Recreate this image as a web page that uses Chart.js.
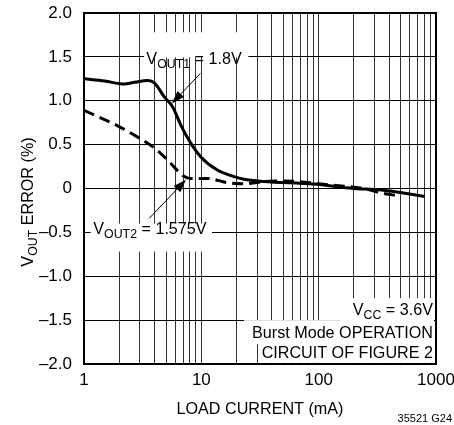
<!DOCTYPE html>
<html>
<head>
<meta charset="utf-8">
<script src="https://cdn.jsdelivr.net/npm/chart.js@4/dist/chart.umd.min.js"></script>
<style>
  html, body { margin: 0; padding: 0; background: #fff; }
  canvas { display: block; }
</style>
</head>
<body>
<canvas id="chart" width="454" height="425"></canvas>
<script>
// V_OUT error vs load current

const FONT = '"Liberation Sans", Arial, sans-serif';
const SX = 0.95; // squeeze for the narrow look of the label text

const xGridTicks = [1, 2, 3, 4, 5, 6, 7, 8, 9, 10, 20, 30, 40, 50, 60, 70, 80, 90,
  100, 200, 300, 400, 500, 600, 700, 800, 900, 1000];
const xLabelTicks = [1, 10, 100, 1000];

const vout1X = [1, 1.5, 2.2, 2.7, 3.5, 4, 4.8, 5.7, 6.7, 8.1, 9.9, 13.7, 19, 23, 34, 90, 200, 330, 800];
const vout1Y = [1.25, 1.225, 1.19, 1.21, 1.23, 1.2, 1.05, 0.93, 0.72, 0.52, 0.36, 0.21, 0.135, 0.105, 0.08, 0.05, 0.0, -0.015, -0.09];

const vout2X = [1, 1.9, 3, 4, 5.1, 7.1, 8.1, 11.2, 16.7, 23, 41, 65, 125, 240, 355, 490];
const vout2Y = [0.89, 0.72, 0.57, 0.46, 0.33, 0.14, 0.115, 0.115, 0.067, 0.055, 0.085, 0.08, 0.04, 0.0, -0.055, -0.085];

function pts(xs, ys) {
  return xs.map(function(x, i) { return { x: x, y: ys[i] }; });
}

function font(size) {
  return size + "px " + FONT;
}

// text made of [string, isSubscript] pieces
function richWidth(ctx, parts) {
  let w = 0;
  parts.forEach(function(p) {
    ctx.font = font(p[1] ? 13 : 17);
    w += ctx.measureText(p[0]).width * SX;
  });
  return w;
}

function drawRich(ctx, x, y, parts) {
  ctx.textBaseline = "alphabetic";
  ctx.textAlign = "left";
  parts.forEach(function(p) {
    ctx.font = font(p[1] ? 13 : 17);
    ctx.save();
    ctx.translate(x, p[1] ? y + 4 : y);
    ctx.scale(SX, 1);
    ctx.fillText(p[0], 0, 0);
    ctx.restore();
    x += ctx.measureText(p[0]).width * SX;
  });
}

function drawText(ctx, str, x, y, align) {
  ctx.font = font(17);
  const w = ctx.measureText(str).width * SX;
  if (align === "right") x -= w;
  if (align === "center") x -= w / 2;
  drawRich(ctx, x, y, [[str, false]]);
}

function arrow(ctx, x0, y0, x1, y1) {
  const a = Math.atan2(y1 - y0, x1 - x0);
  ctx.strokeStyle = "#000";
  ctx.lineWidth = 1;
  ctx.beginPath();
  ctx.moveTo(x0, y0);
  ctx.lineTo(x1 - Math.cos(a) * 6, y1 - Math.sin(a) * 6);
  ctx.stroke();
  ctx.fillStyle = "#000";
  ctx.beginPath();
  ctx.moveTo(x1, y1);
  ctx.lineTo(x1 - Math.cos(a) * 13 + Math.sin(a) * 4.5, y1 - Math.sin(a) * 13 - Math.cos(a) * 4.5);
  ctx.lineTo(x1 - Math.cos(a) * 13 - Math.sin(a) * 4.5, y1 - Math.sin(a) * 13 + Math.cos(a) * 4.5);
  ctx.closePath();
  ctx.fill();
}

const labels1 = [["V", false], ["OUT1", true], [" = 1.8V", false]];
const labels2 = [["V", false], ["OUT2", true], [" = 1.575V", false]];
const labelVcc = [["V", false], ["CC", true], [" = 3.6V", false]];

const notes = {
  id: "notes",
  beforeDatasetsDraw: function(chart) {
    const ctx = chart.ctx;
    const x = chart.scales.x, y = chart.scales.y;
    ctx.save();
    ctx.fillStyle = "#fff";
    // label boxes over the grid
    let l = x.getPixelForValue(3.25), t = y.getPixelForValue(1.78);
    ctx.fillRect(l, t, richWidth(ctx, labels1) + 9, 25);
    l = x.getPixelForValue(1.14); t = y.getPixelForValue(-0.4);
    ctx.fillRect(l, t, richWidth(ctx, labels2) + 8, 28);
    const r = chart.chartArea.right - 2;
    ctx.fillRect(r - 94, y.getPixelForValue(-1.25), 94, 24);
    ctx.fillRect(r - 190, y.getPixelForValue(-1.5), 190, 24);
    ctx.fillRect(r - 176, y.getPixelForValue(-1.77), 176, 19);
    ctx.restore();
  },
  afterDraw: function(chart) {
    const ctx = chart.ctx;
    const x = chart.scales.x, y = chart.scales.y;
    const a = chart.chartArea;
    ctx.save();
    ctx.strokeStyle = "#000";
    ctx.lineWidth = 2;
    ctx.strokeRect(a.left, a.top, a.right - a.left, a.bottom - a.top);

    ctx.fillStyle = "#000";
    drawRich(ctx, x.getPixelForValue(3.4), y.getPixelForValue(1.42), labels1);
    drawRich(ctx, x.getPixelForValue(1.2), y.getPixelForValue(-0.52), labels2);

    arrow(ctx, x.getPixelForValue(9.8), y.getPixelForValue(1.31),
               x.getPixelForValue(5.6), y.getPixelForValue(0.97));
    arrow(ctx, x.getPixelForValue(3.6), y.getPixelForValue(-0.34),
               x.getPixelForValue(7.4), y.getPixelForValue(0.1));

    const r = a.right - 3;
    drawRich(ctx, r - richWidth(ctx, labelVcc), y.getPixelForValue(-1.44), labelVcc);
    drawText(ctx, "Burst Mode OPERATION", r, y.getPixelForValue(-1.7), "right");
    drawText(ctx, "CIRCUIT OF FIGURE 2", r, y.getPixelForValue(-1.93), "right");

    // axis titles
    drawText(ctx, "LOAD CURRENT (mA)", (a.left + a.right) / 2, 414, "center");
    ctx.font = font(11);
    ctx.textAlign = "right";
    ctx.fillText("35521 G24", 452, 422);

    ctx.translate(33, 202);
    ctx.rotate(-Math.PI / 2);
    const yt = [["V", false], ["OUT", true], [" ERROR (%)", false]];
    drawRich(ctx, -richWidth(ctx, yt) / 2, 0, yt);
    ctx.restore();
  }
};

function noEdgePadding(scale) {
  scale.paddingTop = 0;
  scale.paddingBottom = 0;
  scale.paddingLeft = 0;
  scale.paddingRight = 0;
}

const chart = new Chart(document.getElementById("chart").getContext("2d"), {
  type: "scatter",
  data: {
    datasets: [
      {
        label: "VOUT1",
        data: pts(vout1X, vout1Y),
        showLine: true,
        borderColor: "#000",
        borderWidth: 3,
        pointRadius: 0,
        fill: false,
        cubicInterpolationMode: "monotone",
      },
      {
        label: "VOUT2",
        data: pts(vout2X, vout2Y),
        showLine: true,
        borderColor: "#000",
        borderWidth: 3,
        borderDash: [11, 6],
        pointRadius: 0,
        fill: false,
        cubicInterpolationMode: "monotone",
      },
    ],
  },
  options: {
    responsive: false,
    animation: false,
    devicePixelRatio: 1,
    layout: { padding: { left: 0, top: 13, right: 18, bottom: 0 } },
    plugins: {
      legend: { display: false },
      tooltip: { enabled: false },
    },
    scales: {
      x: {
        type: "logarithmic",
        min: 1,
        max: 1000,
        afterBuildTicks: function(scale) {
          scale.ticks = xGridTicks.map(function(v) { return { value: v }; });
        },
        afterFit: function(scale) { scale.height = 61; noEdgePadding(scale); },
        grid: { color: "#333", lineWidth: 1, drawTicks: false },
        border: { display: false },
        ticks: {
          autoSkip: false,
          maxRotation: 0,
          padding: 6,
          color: "#000",
          font: { family: FONT, size: 17 },
          callback: function(v) { return xLabelTicks.indexOf(v) >= 0 ? String(v) : ""; },
        },
      },
      y: {
        min: -2,
        max: 2,
        afterFit: function(scale) { scale.width = 84; noEdgePadding(scale); },
        grid: { color: "#000", lineWidth: 1, drawTicks: false },
        border: { display: false },
        ticks: {
          stepSize: 0.5,
          padding: 12,
          color: "#000",
          font: { family: FONT, size: 17 },
          callback: function(v) {
            if (v === 0) return "0";
            return (v < 0 ? "\u2013" : "") + Math.abs(v).toFixed(1);
          },
        },
      },
    },
  },
  plugins: [notes],
});
</script>
</body>
</html>
